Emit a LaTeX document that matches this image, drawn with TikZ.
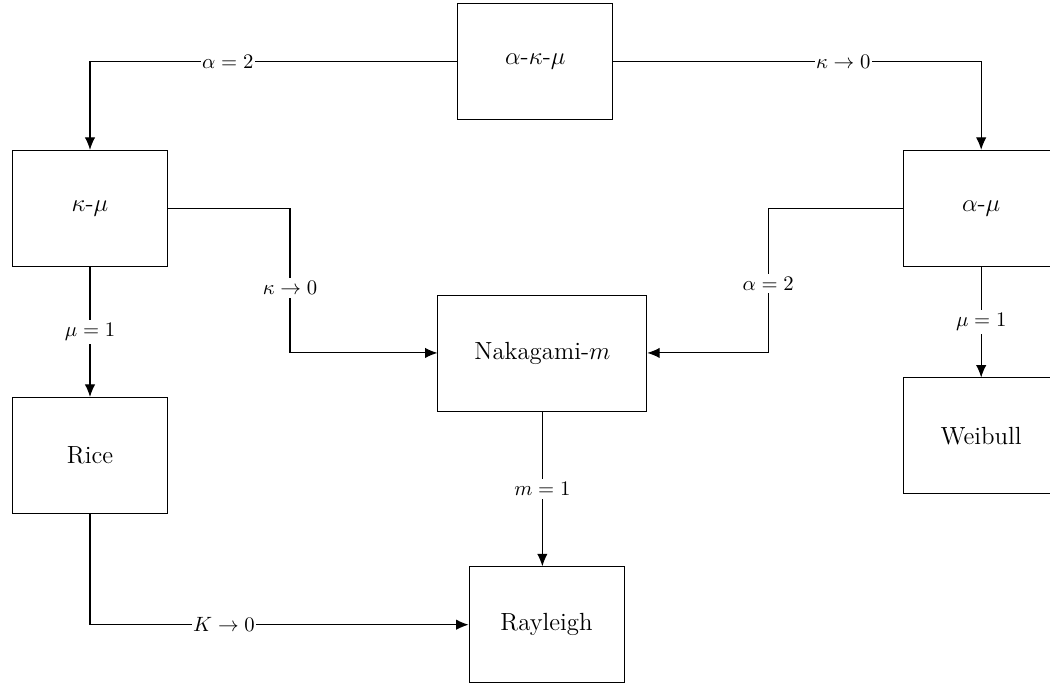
\documentclass[tikz,border=0pt]{standalone}
\usetikzlibrary{arrows.meta}
\tikzset{fadingbox/.style={draw,rectangle,minimum width=2.635cm,minimum height=1.972cm,font=\large},
         condlbl/.style={fill=white,inner xsep=0.6pt,inner ysep=1.5pt},
         condarrow/.style={-{Latex[length=6pt,width=5pt]},line width=0.5pt}}

\begin{document}
\begin{tikzpicture}
                  \useasboundingbox (0,0) rectangle (17.85,-11.628);
                  \node[fadingbox] (akm) at (9.10,-1.05) {$\alpha$-$\kappa$-$\mu$};
                  \node[fadingbox] (km) at (1.53,-3.54) {$\kappa$-$\mu$};
                  \node[fadingbox] (am) at (16.68,-3.54) {$\alpha$-$\mu$};
                  \node[fadingbox,minimum width=3.553cm] (nak) at (9.22,-6.00) {Nakagami-$m$};
                  \node[fadingbox] (rice) at (1.53,-7.74) {Rice};
                  \node[fadingbox] (weib) at (16.68,-7.41) {Weibull};
                  \node[fadingbox] (ray) at (9.29,-10.62) {Rayleigh};
                  \coordinate (kbend) at (4.93,-3.54);
                  \coordinate (abend) at (13.06,-3.54);
                  \draw[condarrow] (akm.west) -| node[condlbl,pos=0.3125] {$\alpha=2$} (km.north);
                  \draw[condarrow] (akm.east) -| node[condlbl,pos=0.3125] {$\kappa\to 0$} (am.north);
                  \draw[condarrow] (km.east) -- (kbend) |- node[condlbl,pos=0.276] {$\kappa\to 0$} (nak.west);
                  \draw[condarrow] (am.west) -- (abend) |- node[condlbl,pos=0.26] {$\alpha=2$} (nak.east);
                  \draw[condarrow] (km.south) -- node[condlbl] {$\mu=1$} (rice.north);
                  \draw[condarrow] (am.south) -- node[condlbl] {$\mu=1$} (weib.north);
                  \draw[condarrow] (nak.south) -- node[condlbl] {$m=1$} (nak.south |- ray.north);
                  \draw[condarrow] (rice.south) |- node[condlbl,pos=0.677] {$K\to 0$} (ray.west);
              \end{tikzpicture}
\end{document}
